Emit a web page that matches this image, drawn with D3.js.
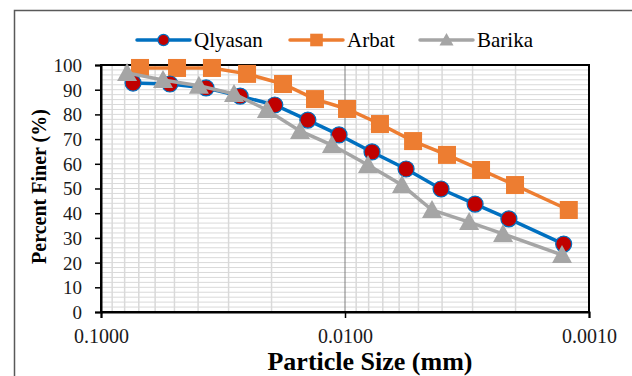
<!DOCTYPE html>
<html>
<head>
<meta charset="utf-8">
<script src="https://cdn.jsdelivr.net/npm/d3@7"></script>
<style>
  html, body { margin: 0; padding: 0; background: #fff; }
  svg { display: block; }
</style>
</head>
<body>
<div id="chart"></div>
<script>
// particle size (mm) and percent finer for each sample
const qlyasanSize = [0.0739, 0.0522, 0.0371, 0.0269, 0.0194, 0.0142, 0.01058, 0.00775, 0.00562, 0.00404, 0.00293, 0.00213, 0.00127];
const qlyasanPct  = [92.7, 92.3, 90.7, 87.4, 83.8, 77.7, 71.7, 64.8, 57.9, 49.8, 43.7, 37.7, 27.5];

const arbatSize = [0.0692, 0.0488, 0.0351, 0.0252, 0.01795, 0.01327, 0.00981, 0.00719, 0.00526, 0.00382, 0.00277, 0.00201, 0.00121];
const arbatPct  = [98.8, 98.8, 98.8, 96.4, 92.3, 86.2, 82.2, 76.1, 69.2, 63.6, 57.5, 51.4, 41.3];

const barikaSize = [0.0782, 0.0557, 0.0397, 0.0285, 0.0209, 0.01529, 0.01131, 0.00805, 0.00584, 0.0044, 0.0031, 0.00225, 0.00129];
const barikaPct  = [96.8, 93.9, 91.6, 88.3, 81.8, 73.3, 67.6, 59.5, 51.4, 41.3, 36.4, 31.6, 23.1];

const seriesNames = ['Qlyasan', 'Arbat', 'Barika'];
const xTicks = [0.1, 0.01, 0.001];
const yTicks = [0, 10, 20, 30, 40, 50, 60, 70, 80, 90, 100];

const FONT = "'Liberation Serif', 'Times New Roman', Times, 'DejaVu Serif', serif";
const W = 632, H = 376;
const margin = {top: 65, right: 43, bottom: 64, left: 101};
const width = W - margin.left - margin.right;
const height = H - margin.top - margin.bottom;

const svg = d3.select('#chart').append('svg')
  .attr('width', W)
  .attr('height', H)
  .style('font-family', FONT);

// chart area frame (cut off by the picture on right and bottom)
svg.append('rect')
  .attr('x', 14.5).attr('y', 10.5)
  .attr('width', W).attr('height', H)
  .attr('fill', 'none')
  .attr('stroke', '#595959')
  .attr('stroke-width', 1.5);

const g = svg.append('g')
  .attr('transform', 'translate(' + margin.left + ',' + margin.top + ')');

const x = d3.scaleLog().domain([0.1, 0.001]).range([0, width]);
const y = d3.scaleLinear().domain([0, 100]).range([height, 0]);

// horizontal minor gridlines every 2 %
g.append('g')
  .selectAll('line')
  .data(d3.range(2, 100, 2))
  .enter().append('line')
  .attr('x1', 0).attr('x2', width)
  .attr('y1', d => y(d)).attr('y2', d => y(d))
  .attr('stroke', '#d9d9d9')
  .attr('stroke-width', 1);

// vertical minor gridlines (log)
const minorX = [];
[0.01, 0.001].forEach(base => {
  for (let k = 2; k <= 9; k++) minorX.push(base * k);
});
g.append('g')
  .selectAll('line')
  .data(minorX)
  .enter().append('line')
  .attr('x1', d => x(d)).attr('x2', d => x(d))
  .attr('y1', 0).attr('y2', height)
  .attr('stroke', '#d9d9d9')
  .attr('stroke-width', 1.5);

// major vertical gridline
g.append('line')
  .attr('x1', x(0.01)).attr('x2', x(0.01))
  .attr('y1', 0).attr('y2', height)
  .attr('stroke', '#7f7f7f')
  .attr('stroke-width', 1);

// plot border
g.append('rect')
  .attr('width', width).attr('height', height)
  .attr('fill', 'none')
  .attr('stroke', '#000')
  .attr('stroke-width', 2);

// axes
const xAxis = g.append('g')
  .attr('transform', 'translate(0,' + height + ')')
  .call(d3.axisBottom(x).tickValues(xTicks).tickSize(6).tickPadding(11)
    .tickFormat(d3.format('.4f')));
const yAxis = g.append('g')
  .call(d3.axisLeft(y).tickValues(yTicks).tickSize(6).tickPadding(13));

xAxis.attr('font-family', null).attr('font-size', 20);
yAxis.attr('font-family', null).attr('font-size', 19);

[xAxis, yAxis].forEach(a => {
  a.select('.domain').attr('stroke', '#000').attr('stroke-width', 2);
  a.selectAll('.tick line').attr('stroke', '#000').attr('stroke-width', 1.5);
  a.selectAll('.tick text').attr('fill', '#1a1a1a').style('font-family', FONT);
});
yAxis.selectAll('.tick text').attr('dy', '0.34em');

// axis titles
svg.append('text')
  .attr('x', 370)
  .attr('y', 370)
  .attr('text-anchor', 'middle')
  .attr('font-weight', 'bold')
  .attr('font-size', 26)
  .attr('fill', '#000')
  .text('Particle Size (mm)');

svg.append('text')
  .attr('transform', 'translate(46,' + (margin.top + height / 2 - 2) + ') rotate(-90)')
  .attr('text-anchor', 'middle')
  .attr('font-weight', 'bold')
  .attr('font-size', 20)
  .attr('fill', '#000')
  .text('Percent Finer (%)');

// series
const series = [
  {name: seriesNames[0], size: qlyasanSize, pct: qlyasanPct, color: '#0070c0', marker: 'circle'},
  {name: seriesNames[1], size: arbatSize, pct: arbatPct, color: '#ed7d31', marker: 'square'},
  {name: seriesNames[2], size: barikaSize, pct: barikaPct, color: '#a5a5a5', marker: 'triangle'}
];

const line = d3.line()
  .x(d => x(d[0]))
  .y(d => y(d[1]));

function drawMarker(sel, s, k) {
  if (s.marker === 'circle') {
    sel.append('circle').attr('r', 8 * k)
      .attr('fill', '#c00000')
      .attr('stroke', '#0070c0')
      .attr('stroke-width', 1.2);
  } else if (s.marker === 'square') {
    sel.append('rect')
      .attr('x', -9 * k).attr('y', -9 * k).attr('width', 18 * k).attr('height', 18 * k)
      .attr('fill', s.color);
  } else {
    sel.append('path')
      .attr('d', 'M0,' + (-10 * k) + 'L' + (10 * k) + ',' + (8 * k) + 'L' + (-10 * k) + ',' + (8 * k) + 'Z')
      .attr('fill', s.color);
  }
}

// draw order so Qlyasan sits over Arbat and Barika over Qlyasan
[series[1], series[0], series[2]].forEach(s => {
  const pts = s.size.map((v, i) => [v, s.pct[i]]);
  const sg = g.append('g');
  sg.append('path')
    .datum(pts)
    .attr('d', line)
    .attr('fill', 'none')
    .attr('stroke', s.color)
    .attr('stroke-width', 3.5);
  sg.selectAll('g.m')
    .data(pts)
    .enter().append('g')
    .attr('class', 'm')
    .attr('transform', d => 'translate(' + x(d[0]) + ',' + y(d[1]) + ')')
    .each(function () { drawMarker(d3.select(this), s, 1); });
});

// legend
const legendX = [137, 290, 420];
series.forEach((s, i) => {
  const lg = svg.append('g').attr('transform', 'translate(' + legendX[i] + ',40)');
  lg.append('line')
    .attr('x1', 0).attr('x2', 53)
    .attr('stroke', s.color)
    .attr('stroke-width', 3.5)
    .attr('stroke-linecap', 'round');
  const m = lg.append('g').attr('transform', 'translate(26.5,0)');
  drawMarker(m, s, 0.7);
  lg.append('text')
    .attr('x', 57).attr('y', 0)
    .attr('dy', '0.33em')
    .attr('font-size', 21)
    .attr('fill', '#000')
    .text(s.name);
});
</script>
</body>
</html>
